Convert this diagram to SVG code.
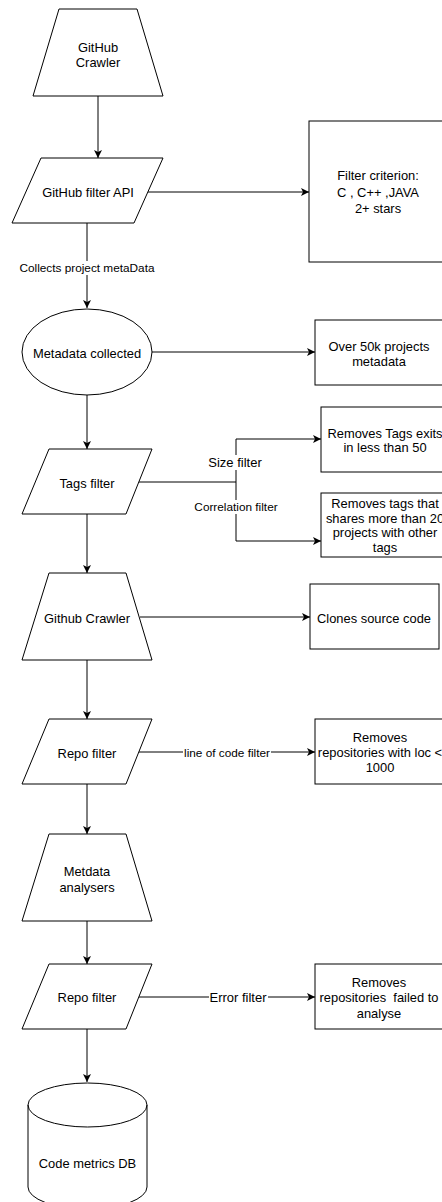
<svg xmlns="http://www.w3.org/2000/svg" width="442" height="1202" viewBox="0 0 442 1202">
<style>
.s{fill:#fff;stroke:#000;stroke-width:1}
.e{fill:none;stroke:#000;stroke-width:1}
.t{font-family:"Liberation Sans",Arial,sans-serif;font-size:12.9px;fill:#000;text-anchor:middle;dominant-baseline:central}
.l{font-family:"Liberation Sans",Arial,sans-serif;font-size:11.8px;fill:#000;text-anchor:middle;dominant-baseline:central}
.l13{font-family:"Liberation Sans",Arial,sans-serif;font-size:13px;fill:#000;text-anchor:middle;dominant-baseline:central}
.bg{fill:#fff;stroke:none}
</style>
<defs>
<marker id="arr" markerUnits="userSpaceOnUse" markerWidth="10" markerHeight="10" refX="8" refY="4" orient="auto">
<path d="M0,0 L8,4 L0,8 L2,4 Z" fill="#000"/>
</marker>
</defs>
<rect width="442" height="1202" fill="#fff"/>
<g id="connectors">
<path class="e" d="M98,96 V158" marker-end="url(#arr)"/>
<path class="e" d="M148,192 H309" marker-end="url(#arr)"/>
<path class="e" d="M87,223 V308" marker-end="url(#arr)"/>
<rect class="bg" x="19" y="261" width="136" height="14"/>
<text class="l" x="87" y="268">Collects project metaData</text>
<path class="e" d="M152,352 H315" marker-end="url(#arr)"/>
<path class="e" d="M87,395 V449" marker-end="url(#arr)"/>
<path class="e" d="M139,482 H236 V439 H321" marker-end="url(#arr)"/>
<path class="e" d="M236,482 V541 H321" marker-end="url(#arr)"/>
<rect class="bg" x="207" y="455" width="56" height="15"/>
<text class="l13" x="235" y="462">Size filter</text>
<rect class="bg" x="193" y="500" width="86" height="14"/>
<text class="l" x="236" y="507">Correlation filter</text>
<path class="e" d="M87,514 V573" marker-end="url(#arr)"/>
<path class="e" d="M140,617 H310" marker-end="url(#arr)"/>
<path class="e" d="M87,660 V719" marker-end="url(#arr)"/>
<path class="e" d="M139,752 H315" marker-end="url(#arr)"/>
<rect class="bg" x="183" y="746" width="88" height="14"/>
<text class="l" x="227" y="753">line of code filter</text>
<path class="e" d="M87,784 V834" marker-end="url(#arr)"/>
<path class="e" d="M87,921 V964" marker-end="url(#arr)"/>
<path class="e" d="M139,997 H315" marker-end="url(#arr)"/>
<rect class="bg" x="209" y="990" width="59" height="15"/>
<text class="l13" x="238" y="997">Error filter</text>
<path class="e" d="M87,1029 V1082" marker-end="url(#arr)"/>
</g>
<g id="github-crawler">
<polygon class="s" points="59,9 137,9 163,96 33,96"/>
<text class="t" x="98" y="47">GitHub</text>
<text class="t" x="98" y="62">Crawler</text>
</g>
<g id="github-filter-api">
<polygon class="s" points="41,158 163,158 134,223 12,223"/>
<text class="t" x="88" y="192">GitHub filter API</text>
</g>
<g id="filter-criterion">
<rect class="s" x="309" y="121" width="140" height="141"/>
<text class="t" x="378" y="175">Filter criterion:</text>
<text class="t" x="378" y="192">C , C++ ,JAVA</text>
<text class="t" x="378" y="208">2+ stars</text>
</g>
<g id="metadata-collected">
<ellipse class="s" cx="87" cy="352" rx="65" ry="43"/>
<text class="t" x="87" y="353">Metadata collected</text>
</g>
<g id="over-50k">
<rect class="s" x="315" y="320" width="130" height="65"/>
<text class="t" x="379" y="346">Over 50k projects</text>
<text class="t" x="379" y="361">metadata</text>
</g>
<g id="tags-filter">
<polygon class="s" points="49,449 152,449 126,514 22,514"/>
<text class="t" x="87" y="483">Tags filter</text>
</g>
<g id="removes-tags-exits">
<rect class="s" x="321" y="407" width="130" height="65"/>
<text class="t" x="385" y="433">Removes Tags exits</text>
<text class="t" x="385" y="447">in less than 50</text>
</g>
<g id="removes-tags-that">
<rect class="s" x="321" y="493" width="130" height="64"/>
<text class="t" x="385" y="503">Removes tags that</text>
<text class="t" x="385" y="518">shares more than 20</text>
<text class="t" x="385" y="532">projects with other</text>
<text class="t" x="385" y="547">tags</text>
</g>
<g id="github-crawler-2">
<polygon class="s" points="49,573 126,573 152,660 22,660"/>
<text class="t" x="87" y="618">Github Crawler</text>
</g>
<g id="clones-source-code">
<rect class="s" x="310" y="584" width="129" height="65"/>
<text class="t" x="374" y="618">Clones source code</text>
</g>
<g id="repo-filter-1">
<polygon class="s" points="49,719 152,719 126,784 22,784"/>
<text class="t" x="87" y="753">Repo filter</text>
</g>
<g id="removes-loc">
<rect class="s" x="315" y="719" width="130" height="65"/>
<text class="t" x="380" y="737">Removes</text>
<text class="t" x="380" y="752">repositories with loc &lt;</text>
<text class="t" x="380" y="767">1000</text>
</g>
<g id="metdata-analysers">
<polygon class="s" points="49,834 126,834 152,921 22,921"/>
<text class="t" x="87" y="871">Metdata</text>
<text class="t" x="87" y="887">analysers</text>
</g>
<g id="repo-filter-2">
<polygon class="s" points="49,964 152,964 126,1029 22,1029"/>
<text class="t" x="87" y="997">Repo filter</text>
</g>
<g id="removes-failed">
<rect class="s" x="315" y="964" width="130" height="65"/>
<text class="t" x="379" y="982">Removes</text>
<text class="t" x="379" y="997" xml:space="preserve">repositories  failed to</text>
<text class="t" x="379" y="1013">analyse</text>
</g>
<g id="code-metrics-db">
<path class="s" d="M28,1105 A59.5,22 0 0 1 147,1105 V1187 A59.5,22 0 0 1 28,1187 Z"/>
<path class="e" d="M28,1105 A59.5,22 0 0 0 147,1105"/>
<text class="t" x="87.5" y="1163">Code metrics DB</text>
</g>
</svg>
